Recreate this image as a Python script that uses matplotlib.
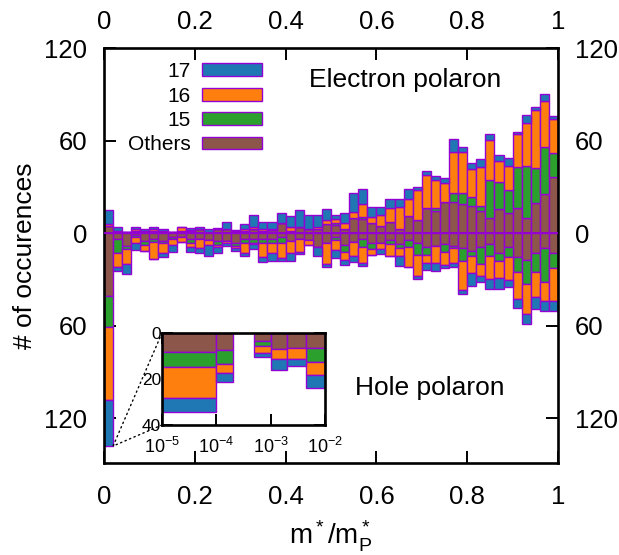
import numpy as np
import matplotlib
matplotlib.use("Agg")
import matplotlib.pyplot as plt
from matplotlib.patches import ConnectionPatch
from matplotlib.ticker import FixedLocator, FuncFormatter, LogFormatterMathtext, NullLocator

plt.rcParams['font.family'] = ['Liberation Sans', 'DejaVu Sans']
plt.rcParams['mathtext.fontset'] = 'custom'
plt.rcParams['mathtext.rm'] = 'Liberation Sans'
plt.rcParams['mathtext.it'] = 'Liberation Sans:italic'
plt.rcParams['mathtext.default'] = 'regular'

# ---------------- data ----------------
bin_edges = np.linspace(0.0, 1.0, 51)
series_labels = ['Others', '15', '16', '17']
series_colors = ['#8c564b', '#2ca02c', '#ff7f0e', '#1f77b4']

elec_others = [4.5, 1.5, 0.8, 1.5, 1.1, 1.5, 1.3, 0.6, 1.5, 1.5,
               2.4, 0.9, 2.8, 2.8, 1.5, 1.5, 2.8, 1.5, 2.0, 6.3,
               1.5, 4.1, 2.4, 2.8, 5.8, 5.2, 2.6, 9.9, 8.9, 6.3,
               4.8, 6.9, 3.0, 11.0, 8.4, 16.0, 14.5, 20.3, 20.3, 19.2,
               17.9, 14.3, 9.5, 15.4, 13.2, 16.0, 9.5, 19.7, 25.1, 36.1]
elec_15 = [0, 0, 0, 0, 0, 0, 0, 0, 0, 0,
           0, 0, 0, 0, 0, 0, 0, 0, 0, 0,
           0, 0, 0, 0, 0, 1.5, 0, 0, 1.3, 0,
           0, 0, 0, 0, 0, 0, 1.5, 0, 5.4, 6.5,
           5.2, 3.5, 24.9, 17.9, 14.7, 27.0, 33.9, 22.3, 30.9, 16.0]
elec_16 = [1.7, 0, 0, 0.9, 0, 0.9, 0, 0, 2.2, 0.3,
           0, 0, 0, 0, 0, 1.5, 1.3, 1.5, 0.5, 0,
           2.6, 0, 0, 1.3, 3.0, 2.2, 4.1, 3.9, 8.6, 3.9,
           6.9, 9.1, 14.1, 11.0, 19.5, 22.0, 18.4, 12.5, 27.0, 27.0,
           18.2, 25.3, 25.9, 13.6, 15.8, 21.0, 27.7, 37.8, 29.8, 21.6]
elec_17 = [8.6, 2.6, 0, 1.7, 1.3, 1.7, 1.1, 0, 0.5, 1.5,
           1.7, 1.5, 0.4, 4.3, 0.3, 3.2, 7.8, 3.9, 5.0, 6.5,
           6.9, 11.2, 9.3, 7.8, 7.1, 2.8, 6.1, 12.3, 9.9, 6.9,
           5.4, 6.1, 5.0, 6.9, 2.2, 2.2, 2.8, 3.2, 8.4, 3.2,
           3.9, 5.0, 3.7, 3.7, 5.2, 1.7, 5.2, 2.2, 4.1, 2.4]

hole_others = [41.0, 4.1, 8.2, 0.9, 5.0, 4.1, 5.0, 2.4, 2.8, 4.1,
               4.1, 4.5, 5.0, 5.0, 6.7, 4.1, 4.1, 4.1, 4.1, 2.8,
               5.0, 4.1, 4.5, 8.9, 6.7, 2.4, 7.8, 5.6, 4.1, 6.3,
               6.3, 4.5, 7.1, 4.5, 6.3, 8.9, 8.4, 7.1, 8.4, 9.9,
               11.5, 8.9, 7.1, 13.2, 8.9, 15.4, 17.1, 13.2, 9.9, 13.2]
hole_15 = [20.0, 8.6, 2.4, 1.5, 3.0, 1.7, 1.7, 1.7, 0, 2.6,
           0, 0, 2.8, 0, 1.7, 2.6, 2.6, 2.6, 2.6, 3.9,
           0, 0, 0, 0, 0, 2.2, 4.3, 0, 4.8, 3.7,
           0, 2.6, 2.8, 4.3, 7.6, 5.0, 0, 5.0, 1.5, 8.0,
           3.5, 10.8, 7.8, 4.8, 6.5, 9.7, 15.6, 11.9, 21.6, 9.7]
hole_16 = [47.0, 9.1, 9.1, 4.3, 3.9, 11.0, 6.1, 3.7, 3.0, 2.2,
           5.8, 3.2, 1.1, 1.7, 1.5, 6.1, 0.5, 8.6, 6.5, 9.1,
           8.2, 8.0, 3.2, 0, 13.0, 6.5, 5.0, 9.3, 10.2, 3.9,
           4.3, 7.8, 5.0, 13.0, 14.1, 5.4, 10.8, 8.6, 9.7, 19.0,
           10.8, 8.2, 15.1, 10.8, 14.7, 17.9, 19.5, 16.2, 12.3, 21.0]
hole_17 = [30.0, 2.8, 6.9, 4.3, 0, 0, 2.6, 4.3, 0, 3.2,
           3.2, 7.1, 4.3, 1.7, 1.5, 2.2, 3.2, 3.5, 4.8, 2.2,
           4.8, 1.5, 0, 6.1, 2.2, 4.8, 3.7, 3.7, 2.4, 0,
           3.0, 0, 6.5, 0, 1.9, 4.8, 5.4, 2.2, 2.6, 2.6,
           8.6, 3.7, 6.5, 7.1, 4.8, 5.8, 6.5, 7.6, 6.5, 6.5]

# inset: hole polaron, smallest masses (log bins)
inset_edges = [1e-5, 1e-4, 2e-4, 5e-4, 1e-3, 2e-3, 4.5e-3, 1e-2]
inset_others = [8.1, 7.4, 0, 3.3, 7.0, 6.5, 6.5]
inset_15 = [6.8, 6.1, 0, 2.2, 0, 0, 5.9]
inset_16 = [13.5, 3.9, 0, 3.2, 4.3, 4.8, 5.7]
inset_17 = [6.1, 3.8, 0, 1.9, 4.8, 2.9, 5.9]

main_xticks = [0, 0.2, 0.4, 0.6, 0.8, 1.0]
main_xticklabels = ['0', '0.2', '0.4', '0.6', '0.8', '1']
main_yticks = [-120, -60, 0, 60, 120]
inset_xticks = [1e-5, 1e-4, 1e-3, 1e-2]
inset_yticks = [0, 20, 40]

edge = '#9400d3'

# ---------------- figure ----------------
fig = plt.figure(figsize=(6.19, 5.55), dpi=100)
ax = fig.add_axes([104/619, 1-463/555, 454/619, 415/555])

left = np.array(bin_edges[:-1])
width = np.diff(bin_edges)

elec = [elec_others, elec_15, elec_16, elec_17]
hole = [hole_others, hole_15, hole_16, hole_17]

bottom = np.zeros(len(left))
handles = []
for vals, col, lab in zip(elec, series_colors, series_labels):
    v = np.array(vals, float)
    b = ax.bar(left, v, width=width, bottom=bottom, align='edge', color=col,
               edgecolor=edge, linewidth=1.0, label=lab, zorder=2)
    handles.append(b)
    bottom = bottom + v

bottom = np.zeros(len(left))
for vals, col in zip(hole, series_colors):
    v = np.array(vals, float)
    ax.bar(left, -v, width=width, bottom=-bottom, align='edge', color=col,
           edgecolor=edge, linewidth=1.0, zorder=2)
    bottom = bottom + v
hole_total = bottom

ax.axhline(0, color=edge, lw=1.3, zorder=3)

ax.set_xlim(0, 1)
ax.set_ylim(-149, 120)
ax.xaxis.set_major_locator(FixedLocator(main_xticks))
ax.set_xticklabels(main_xticklabels)
ax.yaxis.set_major_locator(FixedLocator(main_yticks))
ax.yaxis.set_major_formatter(FuncFormatter(lambda v, p: f"{abs(int(round(v)))}"))
ax.tick_params(which='both', direction='in', length=8.3, width=1.4,
               top=True, right=True, labeltop=False, labelright=True,
               labelsize=18.5)
ax.tick_params(axis='x', pad=16)
ax.tick_params(axis='y', pad=12)
for s in ax.spines.values():
    s.set_linewidth(1.9)

# top tick labels (separate pad)
axt = ax.twiny()
axt.set_xlim(ax.get_xlim())
axt.xaxis.set_major_locator(FixedLocator(main_xticks))
axt.set_xticklabels(main_xticklabels)
axt.tick_params(axis='x', direction='in', length=8.3, width=1.4,
                labelsize=18.5, pad=10)
for s in axt.spines.values():
    s.set_visible(False)

ax.set_ylabel('# of occurences', fontsize=19)
ax.yaxis.set_label_coords(-0.148, 0.5)
ax.set_xlabel(r'$\mathregular{m^*/m^*_P}$', fontsize=20)
ax.xaxis.set_label_coords(0.5, -0.134)

ax.text(0.663, 0.923, 'Electron polaron', transform=ax.transAxes,
        ha='center', va='center', fontsize=19, zorder=5)
ax.text(0.718, 0.181, 'Hole polaron', transform=ax.transAxes,
        ha='center', va='center', fontsize=19, zorder=5)

leg = ax.legend(handles=handles[::-1], labels=series_labels[::-1],
                loc='upper right', bbox_to_anchor=(0.347, 0.966),
                frameon=False, markerfirst=False, fontsize=15,
                handlelength=2.88, handleheight=0.58, handletextpad=0.5,
                labelspacing=0.26, borderpad=0.0, borderaxespad=0.0)
leg.set_zorder(6)

# ---------------- inset ----------------
axins = fig.add_axes([162/619, 1-425/555, 163/619, 92/555])
axins.set_zorder(10)
ie = np.array(inset_edges)
il = ie[:-1]
iw = np.diff(ie)
ib = np.zeros(len(il))
for vals, col in zip([inset_others, inset_15, inset_16, inset_17], series_colors):
    v = np.array(vals, float)
    axins.bar(il, v, width=iw, bottom=ib, align='edge', color=col,
              edgecolor=edge, linewidth=np.where(v > 0, 1.0, 0.0), zorder=2)
    ib = ib + v
axins.set_xscale('log')
axins.set_xlim(inset_edges[0], inset_edges[-1])
axins.set_ylim(40, 0)
axins.xaxis.set_major_locator(FixedLocator(inset_xticks))
axins.xaxis.set_major_formatter(LogFormatterMathtext())
axins.xaxis.set_minor_locator(NullLocator())
axins.yaxis.set_major_locator(FixedLocator(inset_yticks))
axins.tick_params(direction='in', length=8, width=1.4, top=True, right=True)
axins.tick_params(axis='y', pad=0.5, labelsize=12.5)
axins.tick_params(axis='x', pad=8.5, labelsize=13)
for s in axins.spines.values():
    s.set_linewidth(1.9)

# dotted connectors from the first hole bar to the inset
for corner in [(0, 1), (0, 0)]:
    con = ConnectionPatch(xyA=corner, coordsA=axins.transAxes,
                          xyB=(bin_edges[1], -hole_total[0]), coordsB=ax.transData,
                          linestyle=(0, (1, 2.5)), color='black', lw=1.0)
    fig.add_artist(con)

fig.savefig('out.png', dpi=100)
